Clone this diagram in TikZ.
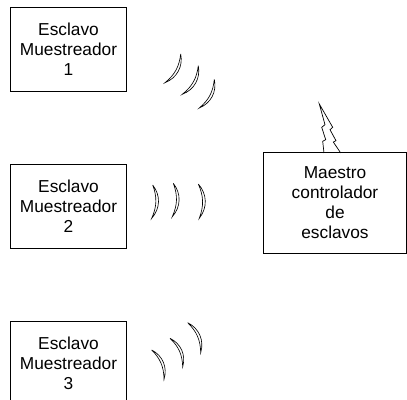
\documentclass[tikz,border=0pt]{standalone}
\usepackage{fontspec}
\setmainfont{Liberation Sans}
\usetikzlibrary{positioning}

\newcommand{\onda}[2]{\draw[onda] #1 to[bend left=40] #2 to[bend right=22] #1;}

\begin{document}
\begin{tikzpicture}[x=0.025cm, y=0.025cm, node distance={3.925cm},
    esclavo/.style = {draw, line width=0.7pt, minimum width=2.875cm, minimum height=2.1cm,
        inner sep=0pt, align=center, font=\fontsize{12.3}{14.2}\selectfont},
    maestro/.style = {esclavo, minimum width=3.55cm, minimum height=2.5cm},
    onda/.style = {line width=0.45pt},
    rayo/.style = {line width=0.5pt, line join=miter}]
\clip (0,0) rectangle (407,400);
\node[esclavo] (1) at (68.5,350.5) {Esclavo\\Muestreador\\1};
\node[esclavo] (2) [below of=1] {Esclavo\\Muestreador\\2};
\node[esclavo] (3) [below of=2] {Esclavo\\Muestreador\\3};
\node[maestro] (m) at (335,197) {Maestro\\controlador\\de\\esclavos};
% antena
\draw[rayo] (324,247) -- (322.7,258.7) -- (325.7,260.3) -- (321.7,272.7) -- (325,275.3)
    -- (319.3,296) -- (332.7,272.7) -- (330,270.3) -- (336,259.3) -- (333.3,258) -- (340.7,247);
% ondas
\onda{(180.7,346)}{(165,317.3)}
\onda{(198.3,334.3)}{(182.3,305.7)}
\onda{(214.3,320.7)}{(199.3,292)}
\onda{(152.7,215)}{(151.7,181.7)}
\onda{(173.3,216.7)}{(172.3,183.3)}
\onda{(198.3,216)}{(199.3,181.7)}
\onda{(151.7,50)}{(164,20.7)}
\onda{(170,61.7)}{(182.7,33.3)}
\onda{(187.7,77.3)}{(200.7,47.3)}
\end{tikzpicture}
\end{document}
